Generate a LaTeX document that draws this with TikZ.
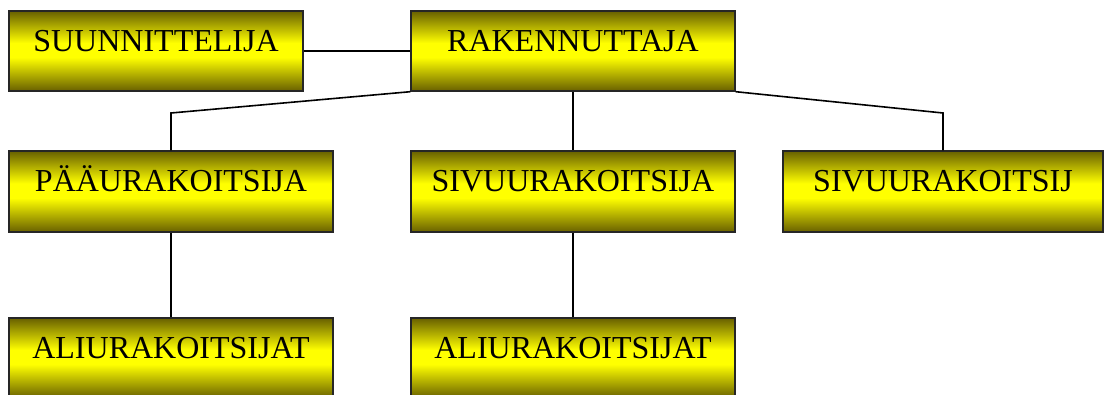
\documentclass[tikz,border=0pt]{standalone}
\usepackage{fontspec}
\setmainfont{Liberation Serif}
\definecolor{oliva}{RGB}{104,96,0}
\definecolor{amarillo}{RGB}{255,255,0}
% Degradado vertical de las cajas
\pgfdeclareverticalshading{cajasombra}{100bp}{color(0bp)=(oliva); color(25bp)=(oliva);
  color(46bp)=(amarillo); color(55bp)=(amarillo); color(75bp)=(oliva); color(100bp)=(oliva)}
\begin{document}
\begin{tikzpicture}[x=1pt,y=-1pt,
    caja/.style={draw=black!85,line width=1.4pt,rectangle,inner sep=0pt,
      minimum width=324pt,minimum height=80pt,shading=cajasombra,
      text height=20pt,text depth=20pt,
      font=\fontsize{32}{38}\selectfont},
    linea/.style={line width=1.6pt}]
    \useasboundingbox (0,0) rectangle (1104,394);
    \clip (0,0) rectangle (1104,394);

    % Fila superior
    \node[caja,minimum width=294pt] (suun) at (156,51) {SUUNNITTELIJA};
    \node[caja] (rak) at (573,51) {RAKENNUTTAJA};

    % Urakoitsijat
    \node[caja,minimum height=81pt] (paa) at (171,191.5) {PÄÄURAKOITSIJA};
    \node[caja,minimum height=81pt] (sivu) at (573,191.5) {SIVUURAKOITSIJA};
    \node[caja,minimum width=320pt,minimum height=81pt] (sivub) at (943,191.5) {SIVUURAKOITSIJ};

    % Aliurakoitsijat
    \node[caja] (alia) at (171,358) {ALIURAKOITSIJAT};
    \node[caja] (alib) at (573,358) {ALIURAKOITSIJAT};

    % Yhteydet
    \draw[linea] (suun.east) -- (rak.west);
    \draw[linea] (rak.south west) -- (paa.north |- 0,113) -- (paa.north);
    \draw[linea] (rak.south) -- (sivu.north);
    \draw[linea] (rak.south east) -- (sivub.north |- 0,113) -- (sivub.north);
    \draw[linea] (paa.south) -- (alia.north);
    \draw[linea] (sivu.south) -- (alib.north);
\end{tikzpicture}
\end{document}
